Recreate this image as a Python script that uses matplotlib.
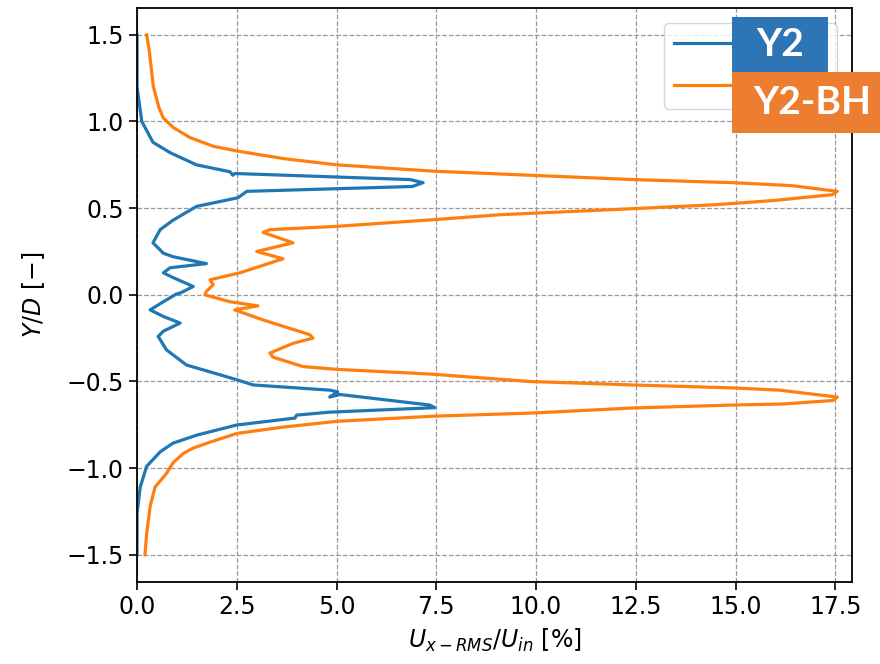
import matplotlib
matplotlib.use("Agg")
import matplotlib.pyplot as plt
from matplotlib.patches import Rectangle

# Y2 profile (x = RMS %, y = Y/D)
y2_x = [0.0, 0.0, 0.12, 0.40, 0.83, 1.49, 2.33, 2.40, 2.45, 6.84, 7.17, 6.90, 2.75, 2.65, 2.53,
        1.49, 0.90, 0.58, 0.40, 0.66, 0.90, 1.74, 0.83, 0.66, 0.90, 1.41, 1.08, 0.99, 0.66,
        0.33, 0.66, 1.08, 0.66, 0.53, 0.74, 1.24, 1.91, 2.50, 2.91, 4.83, 5.03, 4.83, 5.08,
        7.34, 7.46, 4.83, 4.00, 3.96, 2.50, 1.49, 0.90, 0.58, 0.24, 0.08, 0.0, 0.0]
y2_y = [1.50, 1.20, 1.00, 0.88, 0.82, 0.75, 0.71, 0.69, 0.70, 0.665, 0.647, 0.625, 0.597, 0.58, 0.56,
        0.51, 0.43, 0.376, 0.30, 0.24, 0.22, 0.18, 0.156, 0.127, 0.10, 0.048, 0.01, 0.005, -0.04,
        -0.087, -0.125, -0.163, -0.21, -0.24, -0.318, -0.405, -0.45, -0.49, -0.52, -0.55, -0.56, -0.59, -0.575,
        -0.636, -0.651, -0.677, -0.694, -0.711, -0.751, -0.81, -0.856, -0.906, -0.99, -1.11, -1.26, -1.50]

# Y2-BH profile
bh_x = [0.24, 0.30, 0.33, 0.41, 0.55, 0.66, 0.91, 1.33, 1.91, 2.50, 3.70, 5.00, 7.46, 9.84, 12.42,
        14.92, 16.40, 17.55, 17.43, 16.00, 14.51, 12.42, 9.09, 7.46, 5.00, 3.33, 3.16, 3.91, 3.00,
        3.66, 2.58, 1.83, 1.91, 1.74, 1.70, 2.33, 3.03, 2.45, 3.16, 4.33, 4.41, 3.91, 3.33, 3.41,
        4.16, 5.00, 7.34, 9.84, 12.42, 14.92, 16.10, 17.55, 17.43, 16.17, 14.92, 12.42, 9.92, 7.46,
        5.00, 3.60, 2.50, 1.83, 1.40, 1.16, 0.90, 0.74, 0.45, 0.33, 0.24, 0.20]
bh_y = [1.50, 1.42, 1.36, 1.20, 1.08, 1.02, 0.965, 0.907, 0.857, 0.83, 0.785, 0.75, 0.713, 0.69, 0.665,
        0.647, 0.63, 0.597, 0.578, 0.545, 0.52, 0.497, 0.462, 0.434, 0.395, 0.376, 0.36, 0.30, 0.25,
        0.208, 0.127, 0.087, 0.058, 0.02, 0.0, -0.04, -0.064, -0.087, -0.145, -0.23, -0.25, -0.28, -0.336, -0.36,
        -0.414, -0.43, -0.457, -0.50, -0.52, -0.537, -0.55, -0.59, -0.61, -0.63, -0.636, -0.653, -0.682, -0.70,
        -0.73, -0.765, -0.80, -0.85, -0.885, -0.915, -0.97, -1.03, -1.11, -1.22, -1.38, -1.50]

plt.rcParams['font.size'] = 17

fig = plt.figure(figsize=(8.8, 6.64), dpi=100)
ax = fig.add_axes([0.1557, 0.124, 0.813, 0.864])

ax.plot(y2_x, y2_y, color='#1f77b4', lw=2.3, label='Y2')
ax.plot(bh_x, bh_y, color='#ff7f0e', lw=2.3, label='Y2-BH')

ax.set_xlim(0, 17.93)
ax.set_ylim(-1.655, 1.655)
ax.set_xticks([0, 2.5, 5, 7.5, 10, 12.5, 15, 17.5])
ax.set_yticks([-1.5, -1.0, -0.5, 0.0, 0.5, 1.0, 1.5])
ax.grid(True, color='#999999', linestyle='--', linewidth=0.9)
ax.tick_params(length=6, width=1.2)
for s in ax.spines.values():
    s.set_linewidth(1.3)

ax.set_xlabel(r'$U_{x-RMS}/U_{in}$ [%]', labelpad=6)
ax.set_ylabel(r'$Y/D$ $[-]$', labelpad=14)

leg = ax.legend(loc='upper right', fontsize=18, handlelength=2.3, labelspacing=0.72,
                borderaxespad=0.6)
# label texts sit under the coloured boxes in the reference
for t in leg.get_texts():
    t.set_visible(False)

# coloured name boxes over the legend labels
fig.patches.append(Rectangle((0.832, 0.8916), 0.109, 0.0828, transform=fig.transFigure,
                             facecolor='#2E75B6', edgecolor='none', zorder=10))
fig.patches.append(Rectangle((0.832, 0.7997), 0.168, 0.0919, transform=fig.transFigure,
                             facecolor='#ED7D31', edgecolor='none', zorder=10))
fig.text(0.886, 0.933, 'Y2', color='white', fontsize=28, fontweight='bold',
         family='Lato', ha='center', va='center', zorder=11)
fig.text(0.923, 0.846, 'Y2-BH', color='white', fontsize=28, fontweight='bold',
         family='Lato', ha='center', va='center', zorder=11)

fig.savefig('out.png', dpi=100)
